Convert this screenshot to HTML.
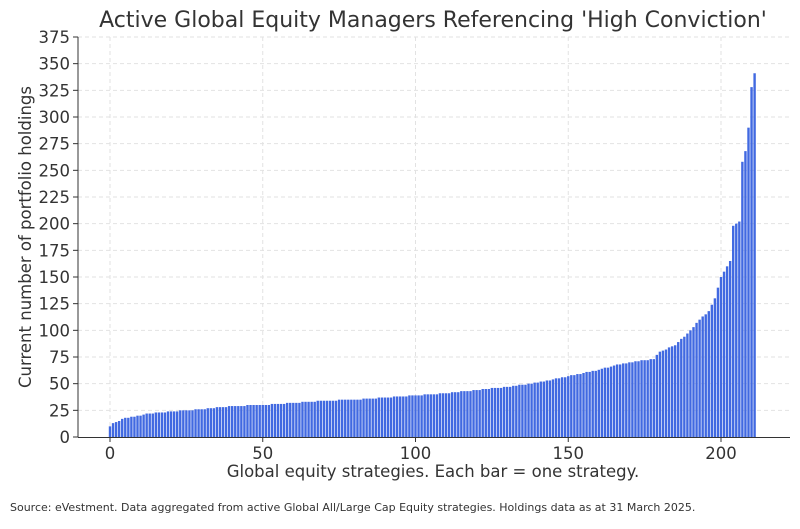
<!DOCTYPE html>
<html><head><meta charset="utf-8"><style>
body{margin:0;background:#fff;}
svg text{font-family:"DejaVu Sans","Liberation Sans",sans-serif;fill:#333;}
</style></head><body>
<svg id="s" width="800" height="524" viewBox="0 0 800 524" xmlns="http://www.w3.org/2000/svg">
<rect width="800" height="524" fill="#fff"/>
<g id="grid"></g>
<g id="bars"></g>
<line x1="78" y1="37" x2="78" y2="437.5" stroke="#333" stroke-width="1"/>
<line x1="78" y1="437.5" x2="790" y2="437.5" stroke="#333" stroke-width="1"/>
<g id="ticks"></g>
<text x="433" y="27" font-size="22" text-anchor="middle">Active Global Equity Managers Referencing 'High Conviction'</text>
<text x="433" y="477" font-size="16.5" text-anchor="middle">Global equity strategies. Each bar = one strategy.</text>
<text transform="translate(31,237) rotate(-90)" font-size="16.5" text-anchor="middle">Current number of portfolio holdings</text>
<text x="10" y="511" font-size="11">Source: eVestment. Data aggregated from active Global All/Large Cap Equity strategies. Holdings data as at 31 March 2025.</text>
</svg>
<script>
var NS="http://www.w3.org/2000/svg";
function el(t,a,p){var e=document.createElementNS(NS,t);for(var k in a)e.setAttribute(k,a[k]);document.getElementById(p).appendChild(e);return e;}
var X=function(i){return 110+i*3.055;}, Y=function(v){return 437-v*1.0667;};
for(var v=0;v<=375;v+=25){var y=Y(v);
 if(v>0)el("line",{x1:78,x2:790,y1:y,y2:y,stroke:"#e2e2e2","stroke-dasharray":"4,3"},"grid");
 el("line",{x1:73,x2:78,y1:y,y2:y,stroke:"#333"},"ticks");
 var t=el("text",{x:70,y:y+6,"font-size":16.5,"text-anchor":"end"},"ticks");t.textContent=v;}
for(var i=0;i<=200;i+=50){var x=X(i);
 el("line",{x1:x,x2:x,y1:37,y2:437,stroke:"#e2e2e2","stroke-dasharray":"4,3"},"grid");
 el("line",{x1:x,x2:x,y1:437,y2:442,stroke:"#333"},"ticks");
 var t=el("text",{x:x,y:459,"font-size":16.5,"text-anchor":"middle"},"ticks");t.textContent=i;}
var k=[[0,10],[1,13],[3,15],[5,18],[8,19],[11,21],[13,22],[20,24],[30,26],[40,29],[50,30],[60,32],[70,34],[80,35],[90,37],[100,39],[110,41],[120,44],[130,47],[140,51],[145,54],[150,57],[160,63],[165,67],[170,70],[178,73],[180,80],[185,86],[190,100],[193,110],[196,118],[198,130],[199,140],[200,150],[202,160],[203,165],[204,198],[205,200],[206,202],[207,258],[208,268],[209,290],[210,328],[211,341]];
function val(i){for(var j=0;j<k.length-1;j++){if(i>=k[j][0]&&i<=k[j+1][0]){var f=(i-k[j][0])/(k[j+1][0]-k[j][0]);return Math.round(k[j][1]+f*(k[j+1][1]-k[j][1]));}}return 0;}
for(var i=0;i<=211;i++){var v=val(i);el("rect",{x:X(i)-1.2,y:Y(v),width:2.4,height:v*1.0667,fill:"#4169e1"},"bars");}
</script>
</body></html>
